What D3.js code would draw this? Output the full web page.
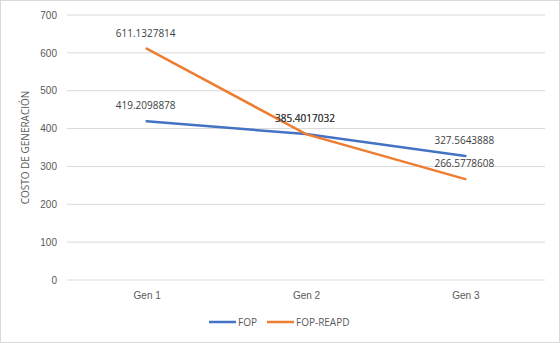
<!DOCTYPE html>
<html>
<head>
<meta charset="utf-8">
<script src="https://cdn.jsdelivr.net/npm/d3@7"></script>
<style>
  body { margin: 0; background: #fff; }
  svg { display: block; font-family: "Open Sans", "Noto Sans", sans-serif; }
</style>
</head>
<body>
<div id="chart"></div>
<script>
const categories = ["Gen 1", "Gen 2", "Gen 3"];
const fopValues = [419.2098878, 385.4017032, 327.5643888];
const reapdValues = [611.1327814, 385.4017032, 266.5778608];
const yTicks = [0, 100, 200, 300, 400, 500, 600, 700];

const series = [
    {name: "FOP", values: fopValues, color: "#4472C4"},
    {name: "FOP-REAPD", values: reapdValues, color: "#ED7D31"}
];

const W = 560, H = 343;
const m = {left: 67, right: 15, top: 15, bottom: 63};

const svg = d3.select("#chart").append("svg")
    .attr("width", W)
    .attr("height", H);

svg.append("rect")
    .attr("x", 0.5).attr("y", 0.5)
    .attr("width", W - 1).attr("height", H - 1)
    .attr("fill", "#fff")
    .attr("stroke", "#d9d9d9");

const x = d3.scalePoint()
    .domain(categories)
    .range([m.left, W - m.right])
    .padding(0.5);

const y = d3.scaleLinear()
    .domain([0, 700])
    .range([H - m.bottom, m.top]);

// gridlines
svg.append("g")
    .selectAll("line")
    .data(yTicks)
    .enter()
    .append("line")
    .attr("x1", m.left)
    .attr("x2", W - m.right)
    .attr("y1", d => y(d))
    .attr("y2", d => y(d))
    .attr("stroke", "#d9d9d9")
    .attr("stroke-width", 1);

const yAxis = d3.axisLeft(y).tickValues(yTicks).tickSize(0).tickPadding(10);
svg.append("g")
    .attr("transform", `translate(${m.left},0)`)
    .call(yAxis)
    .call(g => g.select(".domain").remove())
    .selectAll("text")
    .attr("fill", "#595959")
    .style("font-size", "10px");

const xAxis = d3.axisBottom(x).tickSize(0).tickPadding(12);
svg.append("g")
    .attr("transform", `translate(0,${H - m.bottom})`)
    .call(xAxis)
    .call(g => g.select(".domain").remove())
    .selectAll("text")
    .attr("fill", "#595959")
    .style("font-size", "10px");

svg.append("text")
    .attr("transform", `translate(29,${(y(0) + y(700)) / 2}) rotate(-90)`)
    .attr("text-anchor", "middle")
    .attr("fill", "#595959")
    .style("font-size", "10px")
    .text("COSTO DE GENERACIÓN");

const line = d3.line()
    .x((d, i) => x(categories[i]))
    .y(d => y(d));

series.forEach(s => {
    svg.append("path")
        .datum(s.values)
        .attr("fill", "none")
        .attr("stroke", s.color)
        .attr("stroke-width", 2.5)
        .attr("stroke-linecap", "round")
        .attr("d", line);
});

// data labels, all above their points
series.forEach(s => {
    svg.append("g")
        .selectAll("text")
        .data(s.values)
        .enter()
        .append("text")
        .attr("x", (d, i) => x(categories[i]) - 1)
        .attr("y", d => y(d) - 12)
        .attr("text-anchor", "middle")
        .attr("fill", "#404040")
        .style("font-size", "10px")
        .text(d => d);
});

// legend
const legend = svg.append("g")
    .attr("transform", `translate(209,${H - 21})`);
let lx = 0;
series.forEach(s => {
    legend.append("line")
        .attr("x1", lx).attr("x2", lx + 27)
        .attr("y1", 0).attr("y2", 0)
        .attr("stroke", s.color)
        .attr("stroke-width", 2.5);
    const t = legend.append("text")
        .attr("x", lx + 29)
        .attr("y", 3.5)
        .attr("fill", "#595959")
        .style("font-size", "10px")
        .text(s.name);
    lx += 29 + t.node().getComputedTextLength() + 10;
});
</script>
</body>
</html>
